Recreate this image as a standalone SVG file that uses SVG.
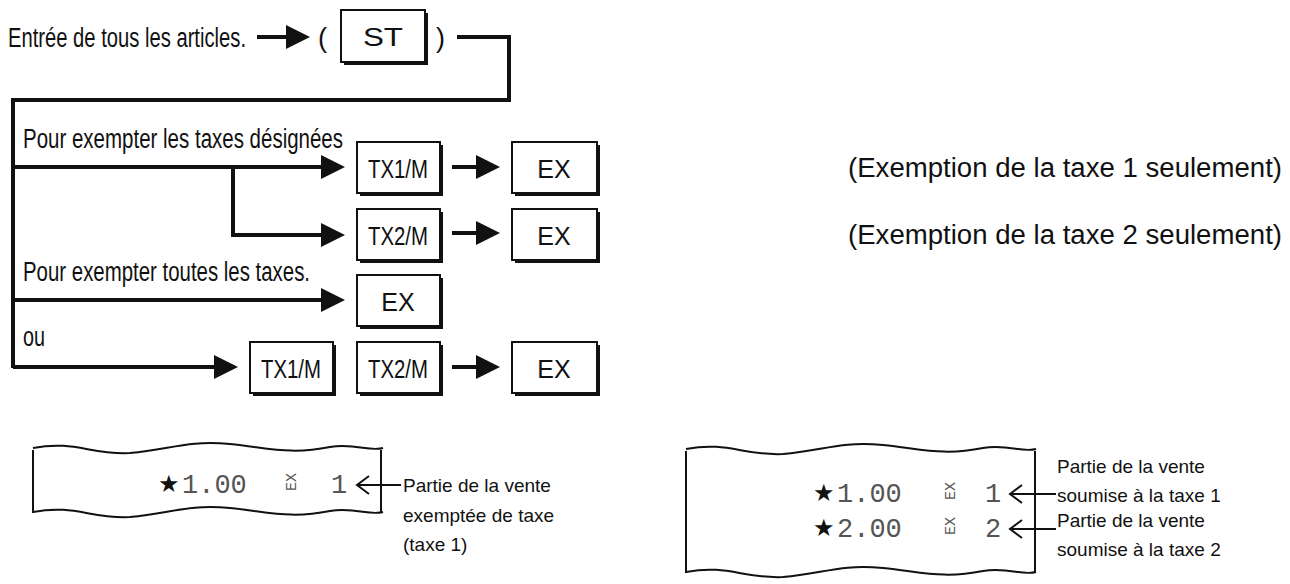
<svg xmlns="http://www.w3.org/2000/svg" width="1290" height="584" viewBox="0 0 1290 584">
<style>
.t{font-family:"Liberation Sans",Arial,sans-serif;font-size:27px;fill:#111}
.k{font-family:"Liberation Sans",Arial,sans-serif;font-size:25px;fill:#111;text-anchor:middle}
.s{font-family:"Liberation Sans",Arial,sans-serif;font-size:19px;fill:#111}
.m{font-family:"Liberation Mono","DejaVu Sans Mono",monospace;font-size:27px;fill:#555}
.st{font-family:"DejaVu Sans",sans-serif;font-size:24px;fill:#111}
.e{font-family:"Liberation Mono",monospace;font-size:15px;fill:#555}
.b{fill:#fff;stroke:#111;stroke-width:2}
.sh{fill:#111}
.ln{fill:none;stroke:#111;stroke-width:4}
.th{fill:none;stroke:#111;stroke-width:2}
</style>
<defs>
<marker id="ah" markerWidth="6" markerHeight="6" refX="5" refY="3" orient="auto" markerUnits="strokeWidth"><path d="M0,0 L6,3 L0,6 z" fill="#111"/></marker>
<marker id="oa" markerWidth="16" markerHeight="20" refX="13" refY="10" orient="auto" markerUnits="userSpaceOnUse"><path d="M1,1 L13,10 L1,19" fill="none" stroke="#111" stroke-width="2"/></marker>
</defs>
<text class="t" x="8" y="47" textLength="238" lengthAdjust="spacingAndGlyphs">Entrée de tous les articles.</text>
<text class="t" x="318" y="47">(</text>
<text class="t" x="436" y="47">)</text>
<text class="t" x="23" y="148" textLength="320" lengthAdjust="spacingAndGlyphs">Pour exempter les taxes désignées</text>
<text class="t" x="23" y="281" textLength="287" lengthAdjust="spacingAndGlyphs">Pour exempter toutes les taxes.</text>
<text class="t" x="23" y="346" textLength="22" lengthAdjust="spacingAndGlyphs">ou</text>
<text class="t" x="848" y="177" textLength="434" lengthAdjust="spacingAndGlyphs">(Exemption de la taxe 1 seulement)</text>
<text class="t" x="848" y="244" textLength="434" lengthAdjust="spacingAndGlyphs">(Exemption de la taxe 2 seulement)</text>
<g id="connectors">
<path class="ln" d="M257,37 H306" marker-end="url(#ah)"/>
<path class="ln" d="M457,37 H509 V100 H13 V368"/>
<path class="ln" d="M13,167 H341" marker-end="url(#ah)"/>
<path class="ln" d="M233,167 V235 H341" marker-end="url(#ah)"/>
<path class="ln" d="M13,300 H341" marker-end="url(#ah)"/>
<path class="ln" d="M13,367 H234" marker-end="url(#ah)"/>
<path class="ln" d="M452,167 H496" marker-end="url(#ah)"/>
<path class="ln" d="M452,233 H496" marker-end="url(#ah)"/>
<path class="ln" d="M452,367 H496" marker-end="url(#ah)"/>
</g>
<g id="n-st"><rect class="sh" x="344" y="13" width="84" height="52"/><rect class="b" x="341" y="10" width="84" height="52"/><text class="k" x="383" y="46" textLength="40" lengthAdjust="spacingAndGlyphs">ST</text></g>
<g id="n-tx1a"><rect class="sh" x="360" y="145" width="83" height="51"/><rect class="b" x="357" y="142" width="83" height="51"/><text class="k" x="398" y="178" textLength="60" lengthAdjust="spacingAndGlyphs">TX1/M</text></g>
<g id="n-tx2a"><rect class="sh" x="360" y="212" width="83" height="51"/><rect class="b" x="357" y="209" width="83" height="51"/><text class="k" x="398" y="245" textLength="60" lengthAdjust="spacingAndGlyphs">TX2/M</text></g>
<g id="n-ex0"><rect class="sh" x="360" y="278" width="83" height="51"/><rect class="b" x="357" y="275" width="83" height="51"/><text class="k" x="398" y="311">EX</text></g>
<g id="n-tx1b"><rect class="sh" x="253" y="345" width="83" height="51"/><rect class="b" x="250" y="342" width="83" height="51"/><text class="k" x="291" y="378" textLength="60" lengthAdjust="spacingAndGlyphs">TX1/M</text></g>
<g id="n-tx2b"><rect class="sh" x="360" y="345" width="83" height="51"/><rect class="b" x="357" y="342" width="83" height="51"/><text class="k" x="398" y="378" textLength="60" lengthAdjust="spacingAndGlyphs">TX2/M</text></g>
<g id="n-ex1"><rect class="sh" x="515" y="145" width="85" height="51"/><rect class="b" x="512" y="142" width="85" height="51"/><text class="k" x="554" y="178">EX</text></g>
<g id="n-ex2"><rect class="sh" x="515" y="212" width="85" height="51"/><rect class="b" x="512" y="209" width="85" height="51"/><text class="k" x="554" y="245">EX</text></g>
<g id="n-ex3"><rect class="sh" x="515" y="345" width="85" height="51"/><rect class="b" x="512" y="342" width="85" height="51"/><text class="k" x="554" y="378">EX</text></g>
<g id="receipt1">
<path class="th" d="M33,448 C75,440 90,455 130,453 C170,450 185,440 230,444 C270,448 290,455 330,447 C355,443 370,452 383,448"/>
<path class="th" d="M33,512 C75,504 90,519 130,517 C170,514 185,504 230,508 C270,512 290,519 330,511 C355,507 370,516 383,512"/>
<path class="th" d="M33,450 V513 M381,450 V513"/>
<text class="st" x="158" y="492">★</text>
<text class="m" x="182" y="493">1.00</text>
<text class="e" transform="translate(296,491) rotate(-90)">EX</text>
<text class="m" x="331" y="493">1</text>
<path class="th" d="M401,485 H357" marker-end="url(#oa)"/>
<text class="s" x="403" y="492">Partie de la vente</text>
<text class="s" x="403" y="522">exemptée de taxe</text>
<text class="s" x="403" y="551">(taxe 1)</text>
</g>
<g id="receipt2">
<path class="th" d="M686,449 C728,441 743,456 783,454 C823,451 838,441 883,445 C923,449 943,456 983,448 C1008,444 1023,453 1036,449"/>
<path class="th" d="M686,572 C728,564 743,579 783,577 C823,574 838,564 883,568 C923,572 943,579 983,571 C1008,567 1023,576 1036,572"/>
<path class="th" d="M686,451 V573 M1035,451 V573"/>
<text class="st" x="813" y="501">★</text>
<text class="m" x="837" y="502">1.00</text>
<text class="e" transform="translate(955,500) rotate(-90)">EX</text>
<text class="m" x="985" y="502">1</text>
<text class="st" x="813" y="536">★</text>
<text class="m" x="837" y="537">2.00</text>
<text class="e" transform="translate(955,535) rotate(-90)">EX</text>
<text class="m" x="985" y="537">2</text>
<path class="th" d="M1056,494 H1010" marker-end="url(#oa)"/>
<path class="th" d="M1056,529 H1010" marker-end="url(#oa)"/>
<text class="s" x="1057" y="473">Partie de la vente</text>
<text class="s" x="1057" y="502">soumise à la taxe 1</text>
<text class="s" x="1057" y="527">Partie de la vente</text>
<text class="s" x="1057" y="556">soumise à la taxe 2</text>
</g>
</svg>
